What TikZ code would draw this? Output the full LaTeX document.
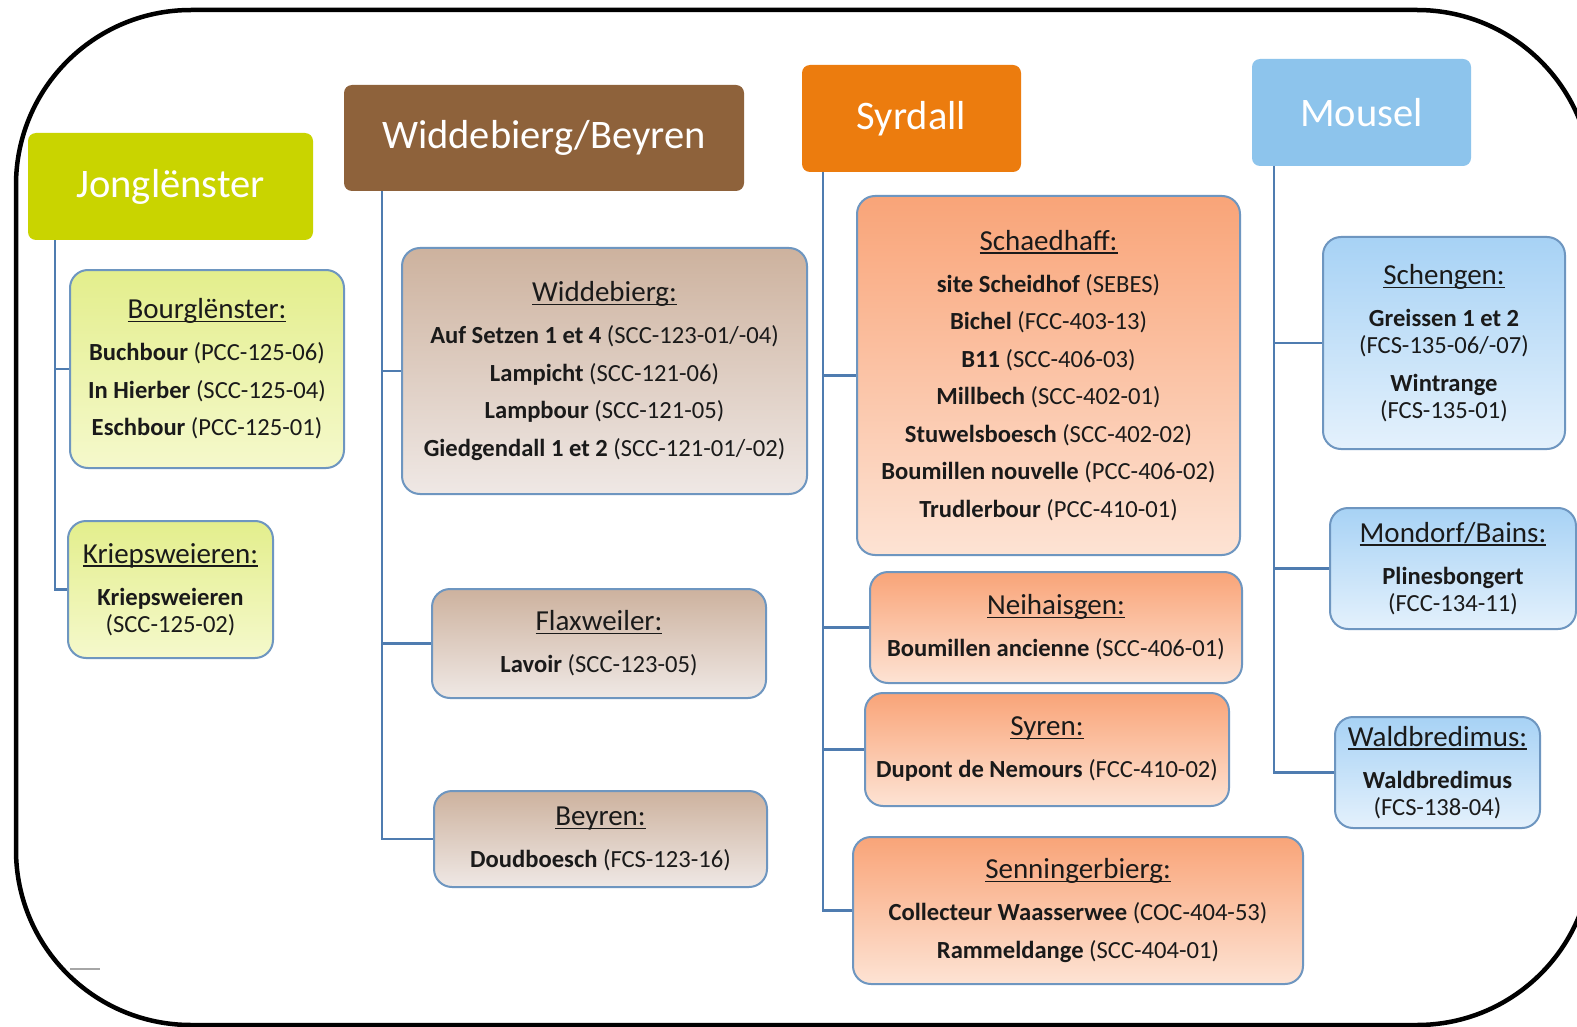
\documentclass[tikz,border=0pt]{standalone}
\usepackage{fontspec}
\setmainfont{Carlito}
\definecolor{jongH}{HTML}{C9D400}
\definecolor{widH}{HTML}{8E623B}
\definecolor{syrH}{HTML}{EC7C0E}
\definecolor{mouH}{HTML}{8DC4EC}
\definecolor{jongT}{HTML}{E3EE8C}
\definecolor{jongB}{HTML}{F5F9CC}
\definecolor{widT}{HTML}{CDB29E}
\definecolor{widB}{HTML}{EFE8E5}
\definecolor{syrT}{HTML}{F9A478}
\definecolor{syrB}{HTML}{FDE3D4}
\definecolor{mouT}{HTML}{A7D2F5}
\definecolor{mouB}{HTML}{E4F1FC}
\definecolor{leafborder}{HTML}{6E96C0}
\definecolor{connc}{HTML}{4F7CB0}
\definecolor{txt}{HTML}{1A1A1A}
\newcommand\ttl[1]{{\fontsize{29}{27}\selectfont\setbox0\hbox{#1}\rlap{\rule[-3.5pt]{\wd0}{1.5pt}}\box0}}
\newcommand\bb[1]{\textbf{#1}}
\tikzset{
  hdr/.style={rounded corners=8, inner sep=0pt, text=white, font=\fontsize{40.5}{46}\selectfont},
  leaf/.style={rounded corners=18, draw=leafborder, line width=2, inner sep=0pt, align=center, text=txt, font=\fontsize{24.6}{27}\selectfont},
  jl/.style={leaf, top color=jongT, bottom color=jongB},
  wl/.style={leaf, top color=widT, bottom color=widB},
  sl/.style={leaf, top color=syrT, bottom color=syrB},
  ml/.style={leaf, top color=mouT, bottom color=mouB},
  conn/.style={draw=connc, line width=2.2}
}
\begin{document}
\begin{tikzpicture}[x=1pt,y=-1pt]
\useasboundingbox (0,0) rectangle (1577,1027);
\fill[white] (0,0) rectangle (1577,1027);
\draw[line width=4.5, rounded corners=175] (16,10) rectangle (1592,1025);
\draw[gray!70, line width=1.5] (70,969) -- (100,969);

% headers
\node[hdr, fill=jongH, minimum width=285, minimum height=107] (jong) at (170.5,186.5) {Jonglënster};
\node[hdr, fill=widH, minimum width=400, minimum height=106] (widh) at (544,138) {Widdebierg/Beyren};
\node[hdr, fill=syrH, minimum width=219, minimum height=107] (syrh) at (911.5,118.5) {Syrdall};
\node[hdr, fill=mouH, minimum width=219, minimum height=107] (mouh) at (1361.5,112.5) {Mousel};

% Jonglenster leaves
\node[jl, minimum width=274, minimum height=198] (bourg) at (207,369)
 {\ttl{Bourglënster:}\\[15pt]\bb{Buchbour} (PCC-125-06)\\[10.5pt]\bb{In Hierber} (SCC-125-04)\\[10.5pt]\bb{Eschbour} (PCC-125-01)};
\node[jl, minimum width=205, minimum height=137] (kriep) at (170.5,589.5)
 {\ttl{Kriepsweieren:}\\[15pt]\bb{Kriepsweieren}\\(SCC-125-02)};

% Widdebierg leaves
\node[wl, minimum width=405, minimum height=246] (widd) at (604.5,371)
 {\ttl{Widdebierg:}\\[15pt]\bb{Auf Setzen 1 et 4} (SCC-123-01/-04)\\[10.5pt]\bb{Lampicht} (SCC-121-06)\\[10.5pt]\bb{Lampbour} (SCC-121-05)\\[10.5pt]\bb{Giedgendall 1 et 2} (SCC-121-01/-02)};
\node[wl, minimum width=334, minimum height=109] (flax) at (599,643.5)
 {\ttl{Flaxweiler:}\\[15pt]\bb{Lavoir} (SCC-123-05)};
\node[wl, minimum width=333, minimum height=96] (beyr) at (600.5,839)
 {\ttl{Beyren:}\\[15pt]\bb{Doudboesch} (FCS-123-16)};

% Syrdall leaves
\node[sl, minimum width=383, minimum height=359] (scha) at (1048.5,375.5)
 {\ttl{Schaedhaff:}\\[15pt]\bb{site Scheidhof} (SEBES)\\[10.5pt]\bb{Bichel} (FCC-403-13)\\[10.5pt]\bb{B11} (SCC-406-03)\\[10.5pt]\bb{Millbech} (SCC-402-01)\\[10.5pt]\bb{Stuwelsboesch} (SCC-402-02)\\[10.5pt]\bb{Boumillen nouvelle} (PCC-406-02)\\[10.5pt]\bb{Trudlerbour} (PCC-410-01)};
\node[sl, minimum width=372, minimum height=111] (neih) at (1056,627.5)
 {\ttl{Neihaisgen:}\\[15pt]\bb{Boumillen ancienne} (SCC-406-01)};
\node[sl, minimum width=364, minimum height=113] (syre) at (1047,749.5)
 {\ttl{Syren:}\\[15pt]\bb{Dupont de Nemours} (FCC-410-02)};
\node[sl, minimum width=450, minimum height=147] (senn) at (1078,910.5)
 {\ttl{Senningerbierg:}\\[15pt]\bb{Collecteur Waasserwee} (COC-404-53)\\[10.5pt]\bb{Rammeldange} (SCC-404-01)};

% Mousel leaves
\node[ml, minimum width=242, minimum height=212] (sche) at (1444,343)
 {\ttl{Schengen:}\\[15pt]\bb{Greissen 1 et 2}\\(FCS-135-06/-07)\\[10.5pt]\bb{Wintrange}\\(FCS-135-01)};
\node[ml, minimum width=246, minimum height=121] (mond) at (1453,568.5)
 {\ttl{Mondorf/Bains:}\\[15pt]\bb{Plinesbongert}\\(FCC-134-11)};
\node[ml, minimum width=205, minimum height=111] (wald) at (1437.5,772.5)
 {\ttl{Waldbredimus:}\\[15pt]\bb{Waldbredimus}\\(FCS-138-04)};

% connectors
\draw[conn] ([xshift=27]jong.south west) |- (bourg.west);
\draw[conn] ([xshift=27]jong.south west) |- (kriep.west);
\draw[conn] ([xshift=38]widh.south west) |- (widd.west);
\draw[conn] ([xshift=38]widh.south west) |- (flax.west);
\draw[conn] ([xshift=38]widh.south west) |- (beyr.west);
\draw[conn] ([xshift=21]syrh.south west) |- (scha.west);
\draw[conn] ([xshift=21]syrh.south west) |- (neih.west);
\draw[conn] ([xshift=21]syrh.south west) |- (syre.west);
\draw[conn] ([xshift=21]syrh.south west) |- (senn.west);
\draw[conn] ([xshift=22]mouh.south west) |- (sche.west);
\draw[conn] ([xshift=22]mouh.south west) |- (mond.west);
\draw[conn] ([xshift=22]mouh.south west) |- (wald.west);
\end{tikzpicture}
\end{document}
